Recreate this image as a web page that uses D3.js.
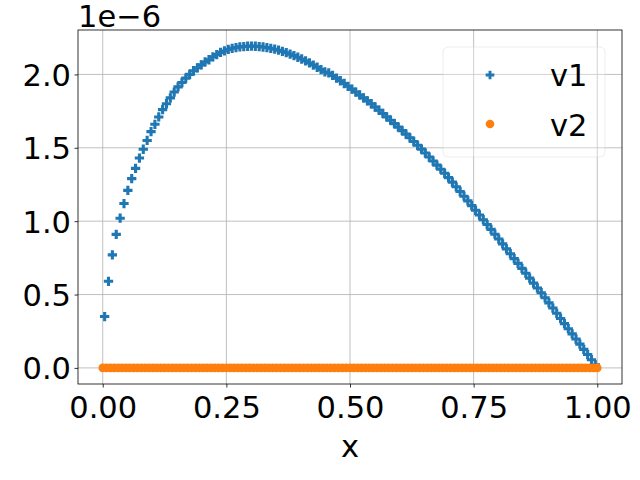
<!DOCTYPE html>
<html>
<head>
<meta charset="utf-8">
<script src="https://cdn.jsdelivr.net/npm/d3@7"></script>
<style>
    body { margin: 0; background: #ffffff; }
    svg { font-family: 'DejaVu Sans', sans-serif; }
</style>
</head>
<body>
<div id="chart"></div>
<script>
//DATA (values of v1 in units of 1e-6)
let xNodes = [
    0, .0078, .0156, .0234, .0313, .0391, .0469, .0547, .0625, .0703, .0781, .0859, .0938, .1016, .1094, .1172,
    .125, .1328, .1406, .1484, .1563, .1641, .1719, .1797, .1875, .1953, .2031, .2109, .2188, .2266, .2344, .2422,
    .25, .2578, .2656, .2734, .2813, .2891, .2969, .3047, .3125, .3203, .3281, .3359, .3438, .3516, .3594, .3672,
    .375, .3828, .3906, .3984, .4063, .4141, .4219, .4297, .4375, .4453, .4531, .4609, .4688, .4766, .4844, .4922,
    .5, .5078, .5156, .5234, .5313, .5391, .5469, .5547, .5625, .5703, .5781, .5859, .5938, .6016, .6094, .6172,
    .625, .6328, .6406, .6484, .6563, .6641, .6719, .6797, .6875, .6953, .7031, .7109, .7188, .7266, .7344, .7422,
    .75, .7578, .7656, .7734, .7813, .7891, .7969, .8047, .8125, .8203, .8281, .8359, .8438, .8516, .8594, .8672,
    .875, .8828, .8906, .8984, .9063, .9141, .9219, .9297, .9375, .9453, .9531, .9609, .9688, .9766, .9844, .9922,
    1
];
let xMid = [
    .0039, .0117, .0195, .0273, .0352, .043, .0508, .0586, .0664, .0742, .082, .0898, .0977, .1055, .1133, .1211,
    .1289, .1367, .1445, .1523, .1602, .168, .1758, .1836, .1914, .1992, .207, .2148, .2227, .2305, .2383, .2461,
    .2539, .2617, .2695, .2773, .2852, .293, .3008, .3086, .3164, .3242, .332, .3398, .3477, .3555, .3633, .3711,
    .3789, .3867, .3945, .4023, .4102, .418, .4258, .4336, .4414, .4492, .457, .4648, .4727, .4805, .4883, .4961,
    .5039, .5117, .5195, .5273, .5352, .543, .5508, .5586, .5664, .5742, .582, .5898, .5977, .6055, .6133, .6211,
    .6289, .6367, .6445, .6523, .6602, .668, .6758, .6836, .6914, .6992, .707, .7148, .7227, .7305, .7383, .7461,
    .7539, .7617, .7695, .7773, .7852, .793, .8008, .8086, .8164, .8242, .832, .8398, .8477, .8555, .8633, .8711,
    .8789, .8867, .8945, .9023, .9102, .918, .9258, .9336, .9414, .9492, .957, .9648, .9727, .9805, .9883, .9961
];
let v1 = [
    0.35, 0.59, 0.77, 0.91, 1.02, 1.12, 1.21, 1.29, 1.36, 1.43, 1.49, 1.55, 1.61, 1.66, 1.71, 1.76,
    1.80, 1.84, 1.88, 1.915, 1.945, 1.975, 2.00, 2.025, 2.045, 2.065, 2.085, 2.10, 2.12, 2.135, 2.15, 2.16,
    2.17, 2.178, 2.183, 2.188, 2.19, 2.192, 2.193, 2.192, 2.19, 2.187, 2.183, 2.178, 2.172, 2.165, 2.157, 2.148,
    2.138, 2.128, 2.117, 2.105, 2.092, 2.078, 2.064, 2.049, 2.033, 2.017, 2.01, 1.993, 1.975, 1.957, 1.938, 1.919,
    1.90, 1.88, 1.86, 1.84, 1.82, 1.80, 1.778, 1.756, 1.734, 1.711, 1.688, 1.665, 1.641, 1.617, 1.593, 1.568,
    1.543, 1.517, 1.491, 1.464, 1.437, 1.41, 1.382, 1.354, 1.326, 1.297, 1.266, 1.234, 1.202, 1.17, 1.138, 1.106,
    1.074, 1.042, 1.01, 0.977, 0.944, 0.911, 0.878, 0.845, 0.811, 0.778, 0.745, 0.712, 0.678, 0.645, 0.612, 0.578,
    0.545, 0.512, 0.478, 0.443, 0.408, 0.372, 0.337, 0.302, 0.267, 0.232, 0.197, 0.162, 0.126, 0.091, 0.056, 0.021
];
let v2 = [
    0, 0, 0, 0, 0, 0, 0, 0, 0, 0, 0, 0, 0, 0, 0, 0,
    0, 0, 0, 0, 0, 0, 0, 0, 0, 0, 0, 0, 0, 0, 0, 0,
    0, 0, 0, 0, 0, 0, 0, 0, 0, 0, 0, 0, 0, 0, 0, 0,
    0, 0, 0, 0, 0, 0, 0, 0, 0, 0, 0, 0, 0, 0, 0, 0,
    0, 0, 0, 0, 0, 0, 0, 0, 0, 0, 0, 0, 0, 0, 0, 0,
    0, 0, 0, 0, 0, 0, 0, 0, 0, 0, 0, 0, 0, 0, 0, 0,
    0, 0, 0, 0, 0, 0, 0, 0, 0, 0, 0, 0, 0, 0, 0, 0,
    0, 0, 0, 0, 0, 0, 0, 0, 0, 0, 0, 0, 0, 0, 0, 0,
    0
];
let xTicks = [0, 0.25, 0.5, 0.75, 1];
let yTicks = [0, 0.5, 1, 1.5, 2];
let seriesNames = ['v1', 'v2'];
let colors = ['#1f77b4', '#ff7f0e'];

//INIT
init();

function init() {
    let width = 640, height = 480;
    let margin = {top: 30, right: 18, bottom: 96, left: 78};
    let fontSize = 30.5;
    let innerW = width - margin.left - margin.right,
        innerH = height - margin.top - margin.bottom;

    let svg = d3.select('#chart')
        .append('svg')
            .attr('width', width)
            .attr('height', height);

    let chart = svg.append('g')
        .attr('transform', 'translate(' + margin.left + ',' + margin.top + ')');

    //Scales (matplotlib style 5% margins)
    let x = d3.scaleLinear().domain([-0.05, 1.05]).range([0, innerW]);
    let y = d3.scaleLinear().domain([-0.1097, 2.3027]).range([innerH, 0]);

    //Grid
    chart.append('g').selectAll('line')
        .data(xTicks)
        .enter().append('line')
        .attr('x1', d => x(d)).attr('x2', d => x(d))
        .attr('y1', 0).attr('y2', innerH)
        .attr('stroke', '#b0b0b0').attr('stroke-width', 0.8);
    chart.append('g').selectAll('line')
        .data(yTicks)
        .enter().append('line')
        .attr('y1', d => y(d)).attr('y2', d => y(d))
        .attr('x1', 0).attr('x2', innerW)
        .attr('stroke', '#b0b0b0').attr('stroke-width', 0.8);

    //Series v1 (plus markers)
    let cross = d3.symbol().type(d3.symbolCross).size(48);
    chart.append('g').selectAll('path')
        .data(v1)
        .enter().append('path')
        .attr('d', cross)
        .attr('transform', (d, i) => 'translate(' + x(xMid[i]) + ',' + y(d) + ')')
        .attr('fill', colors[0]);

    //Series v2 (dots)
    chart.append('g').selectAll('circle')
        .data(v2)
        .enter().append('circle')
        .attr('cx', (d, i) => x(xNodes[i]))
        .attr('cy', d => y(d))
        .attr('r', 4.3)
        .attr('fill', colors[1]);

    //Axes
    let xAxis = chart.append('g')
        .attr('transform', 'translate(0,' + innerH + ')')
        .call(d3.axisBottom(x).tickValues(xTicks).tickSize(3.5).tickFormat(d3.format('.2f')));
    xAxis.select('.domain').remove();
    xAxis.selectAll('.tick line').attr('stroke', '#000').attr('stroke-width', 0.8);
    xAxis.selectAll('.tick text')
        .attr('y', 34).attr('dy', null)
        .attr('fill', '#000')
        .style('font-size', fontSize + 'px')
        .style('font-family', "'DejaVu Sans', sans-serif");

    let yAxis = chart.append('g')
        .call(d3.axisLeft(y).tickValues(yTicks).tickSize(3.5).tickPadding(3.5).tickFormat(d3.format('.1f')));
    yAxis.select('.domain').remove();
    yAxis.selectAll('.tick line').attr('stroke', '#000').attr('stroke-width', 0.8);
    yAxis.selectAll('.tick text')
        .attr('dy', '0.36em')
        .attr('fill', '#000')
        .style('font-size', fontSize + 'px')
        .style('font-family', "'DejaVu Sans', sans-serif");

    //Frame
    chart.append('rect')
        .attr('width', innerW).attr('height', innerH)
        .attr('fill', 'none')
        .attr('stroke', '#000').attr('stroke-width', 0.8);

    //Labels
    svg.append('text')
        .attr('x', margin.left + innerW / 2).attr('y', 457)
        .attr('text-anchor', 'middle')
        .style('font-size', fontSize + 'px')
        .text('x');
    svg.append('text')
        .attr('x', margin.left).attr('y', 27)
        .style('font-size', fontSize + 'px')
        .text('1e\u22126');

    //Legend
    let legend = svg.append('g').attr('transform', 'translate(443,47)');
    legend.append('rect')
        .attr('width', 162).attr('height', 110).attr('rx', 5)
        .attr('fill', '#fff').attr('fill-opacity', 0.3)
        .attr('stroke', '#cccccc').attr('stroke-opacity', 0.35);
    legend.append('path')
        .attr('d', d3.symbol().type(d3.symbolCross).size(41))
        .attr('transform', 'translate(47,28)')
        .attr('fill', colors[0]);
    legend.append('circle')
        .attr('cx', 47).attr('cy', 77).attr('r', 4.3)
        .attr('fill', colors[1]);
    legend.selectAll('text')
        .data(seriesNames)
        .enter().append('text')
        .attr('x', 107)
        .attr('y', (d, i) => 39 + i * 50)
        .style('font-size', fontSize + 'px')
        .text(d => d);
}
</script>
</body>
</html>
